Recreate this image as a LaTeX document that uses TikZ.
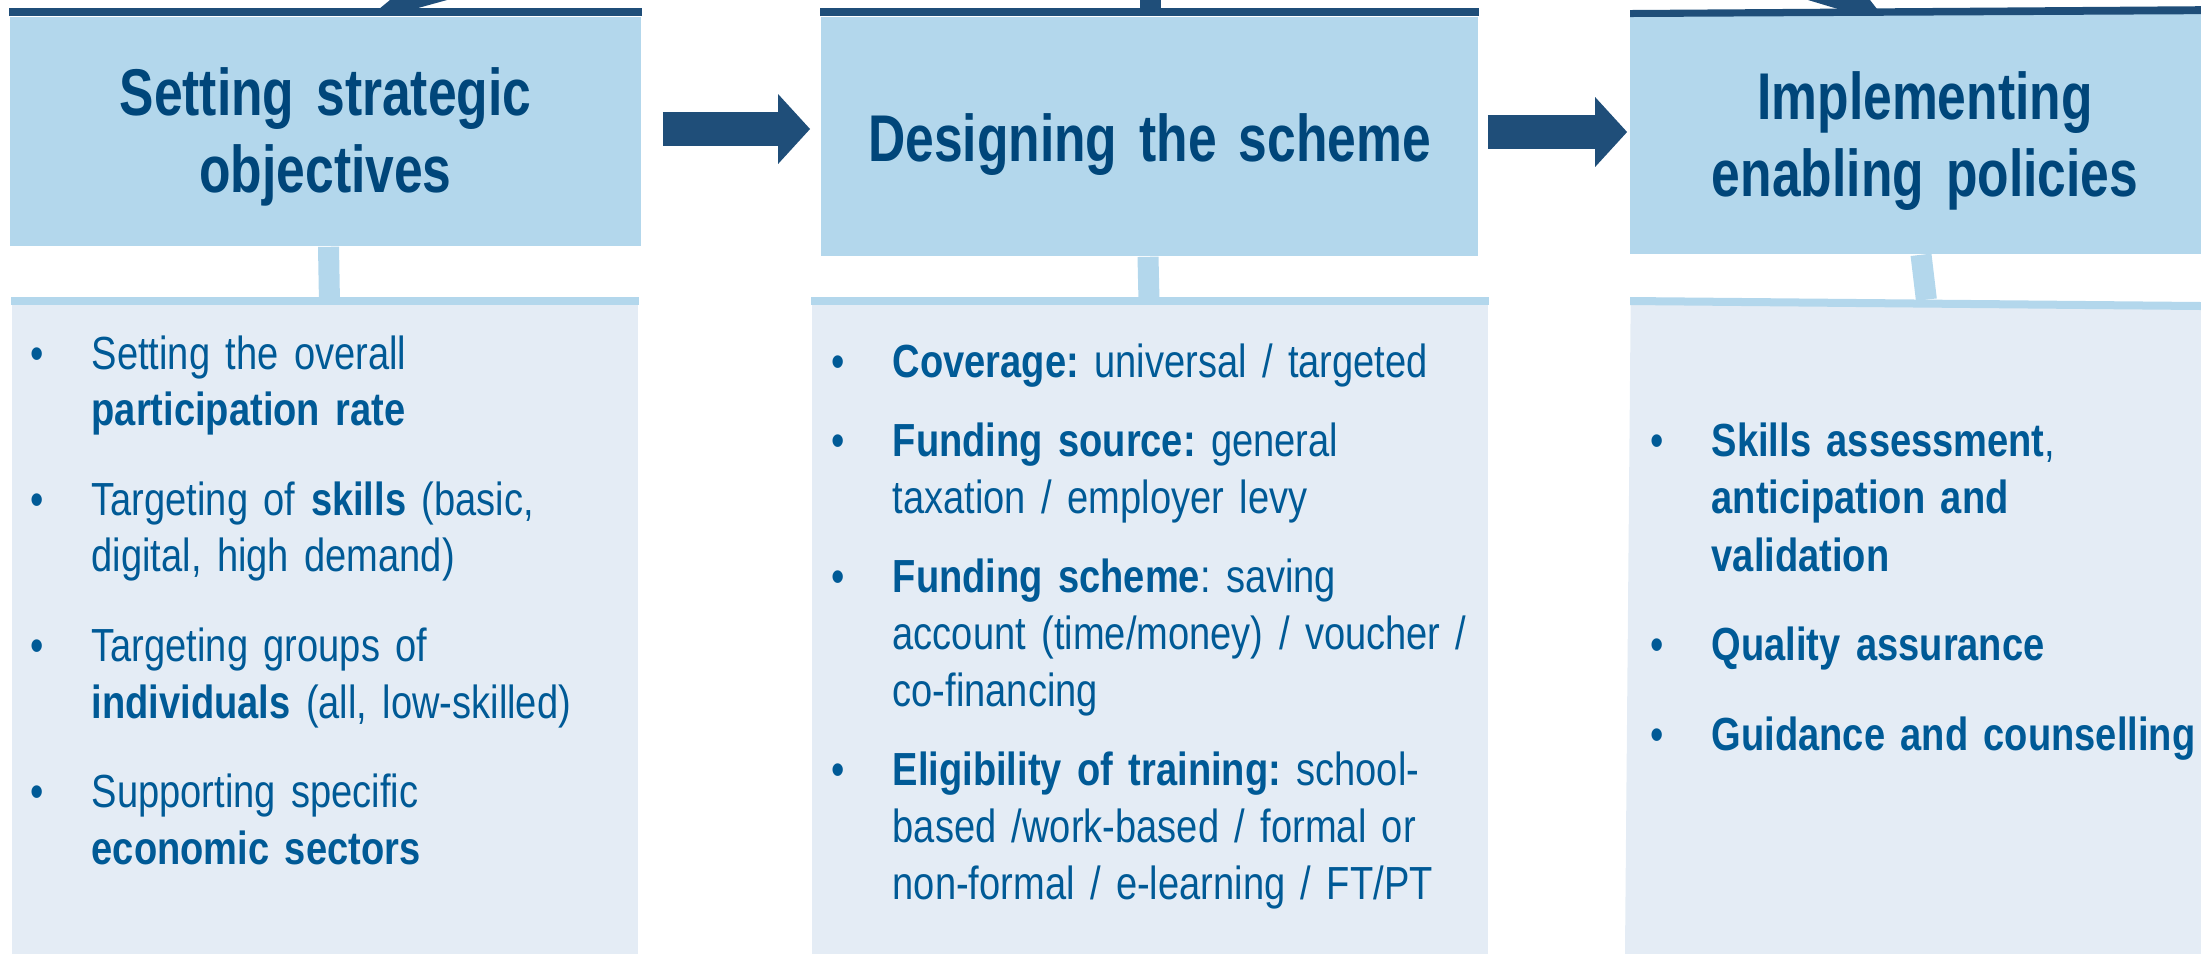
\documentclass[tikz,border=0pt]{standalone}
\usepackage{fontspec}
\setmainfont[FakeStretch=0.82]{Liberation Sans}
\newfontfamily\headfont[FakeStretch=0.78]{Liberation Sans}
\usetikzlibrary{arrows.meta}

\definecolor{navy}{HTML}{1F4E79}
\definecolor{hdrfill}{HTML}{B3D7EC}
\definecolor{bodyfill}{HTML}{E4ECF5}
\definecolor{titleblue}{HTML}{00467A}
\definecolor{textblue}{HTML}{005A96}

% one bulleted entry, continuation lines hang under the text
\newcommand\bitem{\noindent\hangindent=0.61cm\hangafter=1\makebox[0.61cm][l]{\textbullet}}

\tikzset{
  hdr/.style={fill=hdrfill, inner sep=0pt},
  bodybox/.style={fill=bodyfill, inner sep=0pt, anchor=north west, minimum height=7cm},
  headtext/.style={text=titleblue, font=\headfont\bfseries\fontsize{18.8pt}{21.9pt}\selectfont,
    text width=6.4cm, align=center, anchor=base, inner sep=0pt},
  itemlist/.style={text=textblue, font=\fontsize{13.2pt}{16.1pt}\selectfont\frenchspacing,
    text width=6.6cm, align=left, anchor=base west, inner sep=0pt},
  stem/.style={draw=hdrfill, line width=0.21cm},
  flowarrow/.style={draw=navy, line width=0.34cm, -{Triangle[length=0.32cm,width=0.68cm]}},
}

\begin{document}
\begin{tikzpicture}[x=0.01cm, y=-0.01cm]
  % Frame
  \useasboundingbox (0,0) rectangle (2201,953);
  \clip (0,0) rectangle (2201,953);
  % Header boxes
  \node[hdr, minimum width=6.31cm, minimum height=2.29cm] (hdrA) at (325.5,131.5) {};
  \node[hdr, minimum width=6.57cm, minimum height=2.39cm] (hdrB) at (1149.5,136.5) {};
  \node[hdr, minimum width=5.90cm, minimum height=2.40cm] (hdrC) at (1925,134) {};
  % Dark bars on top
  \fill[navy] ([yshift=0.08cm]hdrA.north west) rectangle (hdrA.north east);
  \fill[navy] ([yshift=0.08cm]hdrB.north west) rectangle (hdrB.north east);
  \fill[navy] (1630,10) -- (2230,6) -- (2230,14) -- (1630,17) -- cycle;
  % Ends of the loop arrows coming from above
  \fill[navy] (379,9) -- (390,0) -- (447,0) -- (418,8) -- (418,9) -- cycle;
  \fill[navy] (1140,0) rectangle (1161,9);
  \fill[navy] (1808,0) -- (1870,0) -- (1877,9) -- (1838,9) -- cycle;
  % Stems down to the lists
  \coordinate (rowA) at (0,129);
  \coordinate (rowB) at (0,132);
  \node[bodybox, minimum width=6.26cm] (bodyA) at (11,297) {};
  \node[bodybox, minimum width=6.76cm] (bodyB) at (811,297) {};
  \node[bodybox, minimum width=6.00cm, rotate=-0.5] (bodyC) at (1630,297) {};
  \draw[stem] ([xshift=0.03cm]hdrA.south) -- ([xshift=0.045cm]bodyA.north);
  \draw[stem] ([xshift=-0.015cm]hdrB.south) -- ([xshift=-0.01cm]bodyB.north);
  \draw[stem] ([xshift=-0.04cm]hdrC.south) -- ([xshift=-0.045cm]bodyC.north);
  % Light bands on the lists
  \foreach \b in {bodyA,bodyB,bodyC}
    \fill[hdrfill] (\b.north west) -- (\b.north east) -- ([yshift=-0.08cm]\b.north east)
      -- ([yshift=-0.08cm]\b.north west) -- cycle;
  % Flow arrows
  \draw[flowarrow, shorten <=0.21cm, shorten >=0.10cm] (hdrA.east |- rowA) -- (hdrB.west |- rowA);
  \draw[flowarrow, shorten <=0.09cm, shorten >=0.02cm] (hdrB.east |- rowB) -- (hdrC.west |- rowB);
  % Titles
  \node[headtext] (ttlA) at (325.5,115) {Setting strategic\\objectives};
  \node[headtext] (ttlB) at (1149.5,161) {Designing the scheme};
  \node[headtext] (ttlC) at (1925,119) {Implementing\\enabling policies};
  % Lists
  \node[itemlist] (listA) at (30,369) {\setlength{\parskip}{0.33cm}%
    \bitem Setting the overall\newline\textbf{participation rate}\par
    \bitem Targeting of \textbf{skills} (basic,\newline digital, high demand)\par
    \bitem Targeting groups of\newline\textbf{individuals} (all, low-skilled)\par
    \bitem Supporting specific\newline\textbf{economic sectors}\par};
  \node[itemlist] (listB) at (831,377) {\setlength{\parskip}{0.23cm}%
    \bitem\textbf{Coverage:} universal / targeted\par
    \bitem\textbf{Funding source:} general\newline taxation / employer levy\par
    \bitem\textbf{Funding scheme}: saving\newline account (time/money) / voucher /\newline co-financing\par
    \bitem\textbf{Eligibility of training:} school-\newline based /work-based / formal or\newline non-formal / e-learning / FT/PT\par};
  \node[itemlist, font=\fontsize{13.2pt}{16.35pt}\selectfont\frenchspacing] (listC) at (1650,456) {\setlength{\parskip}{0.32cm}%
    \bitem\textbf{Skills assessment},\newline\textbf{anticipation and}\newline\textbf{validation}\par
    \bitem\textbf{Quality assurance}\par
    \bitem\textbf{Guidance and counselling}\par};
\end{tikzpicture}
\end{document}
